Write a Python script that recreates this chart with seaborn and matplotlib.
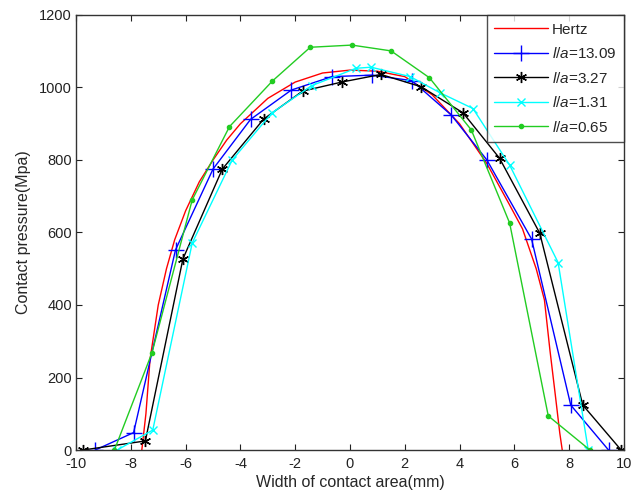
import matplotlib
matplotlib.use("Agg")
import matplotlib.pyplot as plt
import seaborn as sns
import pandas as pd

# ---- data ----
hertz_x = [-7.6, -7.45, -7.3, -7.0, -6.7, -6.4, -6.0, -5.5, -5.0, -4.5, -4.0, -3.0, -2.0,
           -1.0, 0.0, 1.0, 2.0, 3.0, 4.0, 5.0, 5.8, 6.3, 6.8, 7.1, 7.3, 7.5, 7.66, 7.75]
hertz_y = [0, 100, 250, 400, 500, 580, 660, 740, 800, 855, 900, 970, 1015,
           1040, 1048, 1045, 1030, 980, 900, 790, 680, 610, 500, 414, 276, 150, 47, 0]

la1309_x = [-9.3, -7.9, -6.37, -5.0, -3.63, -2.14, -0.66, 0.8, 2.26, 3.7, 5.0, 6.63, 8.06, 9.44]
la1309_y = [0, 48, 552, 775, 912, 993, 1030, 1034, 1019, 924, 800, 582, 124, 0]

la327_x = [-9.74, -7.47, -6.1, -4.66, -3.15, -1.73, -0.3, 1.13, 2.6, 4.13, 5.46, 6.93, 8.5, 9.9]
la327_y = [0, 25, 527, 775, 913, 990, 1015, 1036, 1002, 930, 805, 598, 124, 0]

la131_x = [-8.5, -7.2, -5.76, -4.3, -2.85, -1.4, 0.22, 0.77, 2.2, 3.3, 4.49, 5.83, 7.6, 8.7]
la131_y = [0, 55, 571, 800, 930, 1005, 1053, 1056, 1030, 985, 942, 786, 517, 0]

la065_x = [-8.6, -7.23, -5.76, -4.4, -2.83, -1.45, 0.07, 1.5, 2.9, 4.43, 5.83, 7.24, 8.76]
la065_y = [0, 268, 690, 892, 1018, 1111, 1117, 1101, 1027, 883, 626, 94, 0]

x_ticks = [-10, -8, -6, -4, -2, 0, 2, 4, 6, 8, 10]
y_ticks = [0, 200, 400, 600, 800, 1000, 1200]

series = [
    ("Hertz", hertz_x, hertz_y, "#ff0000", None, 0),
    (r"$\mathit{l/a}$=13.09", la1309_x, la1309_y, "#0000ff", "+", 11),
    (r"$\mathit{l/a}$=3.27", la327_x, la327_y, "#000000", (6, 2, 0), 8),
    (r"$\mathit{l/a}$=1.31", la131_x, la131_y, "#00ffff", "x", 6),
    (r"$\mathit{l/a}$=0.65", la065_x, la065_y, "#22cc22", ".", 6),
]

sns.set_style("white")
plt.rcParams["font.family"] = ["Liberation Sans", "DejaVu Sans"]
plt.rcParams["mathtext.fontset"] = "custom"
plt.rcParams["mathtext.it"] = "Liberation Sans:italic"
plt.rcParams["mathtext.rm"] = "Liberation Sans"
plt.rcParams["axes.unicode_minus"] = False

fig = plt.figure(figsize=(6.34, 5.0), dpi=100)
ax = fig.add_axes([0.12, 0.10, 0.864, 0.87])

for label, xs, ys, color, marker, ms in series:
    df = pd.DataFrame({"x": xs, "y": ys})
    kw = {}
    if marker is not None:
        kw = dict(marker=marker, markersize=ms, markeredgecolor=color,
                  markerfacecolor=color, markeredgewidth=1.0)
    sns.lineplot(data=df, x="x", y="y", sort=False, estimator=None, ax=ax,
                 color=color, linewidth=1.0, label=label, **kw)

ax.set_xlim(-10, 10)
ax.set_ylim(0, 1200)
ax.set_xticks(x_ticks)
ax.set_yticks(y_ticks)
ax.tick_params(direction="in", length=4, width=0.8, labelsize=10.5, colors="#222222",
               top=True, right=True, bottom=True, left=True)
ax.tick_params(axis="x", pad=5)
ax.tick_params(axis="y", pad=3)
for s in ax.spines.values():
    s.set_color("#333333")
    s.set_linewidth(1.0)
ax.set_xlabel("Width of contact area(mm)", fontsize=11.5, labelpad=3)
ax.set_ylabel("Contact pressure(Mpa)", fontsize=11.5, labelpad=6)

leg = ax.legend(loc="upper right", fontsize=11, frameon=True, fancybox=False,
                edgecolor="#222222", handlelength=3.5, borderpad=0.5,
                labelspacing=0.62, handletextpad=0.25, borderaxespad=0.0)
leg.get_frame().set_linewidth(1.0)

fig.savefig("out.png", dpi=100)
